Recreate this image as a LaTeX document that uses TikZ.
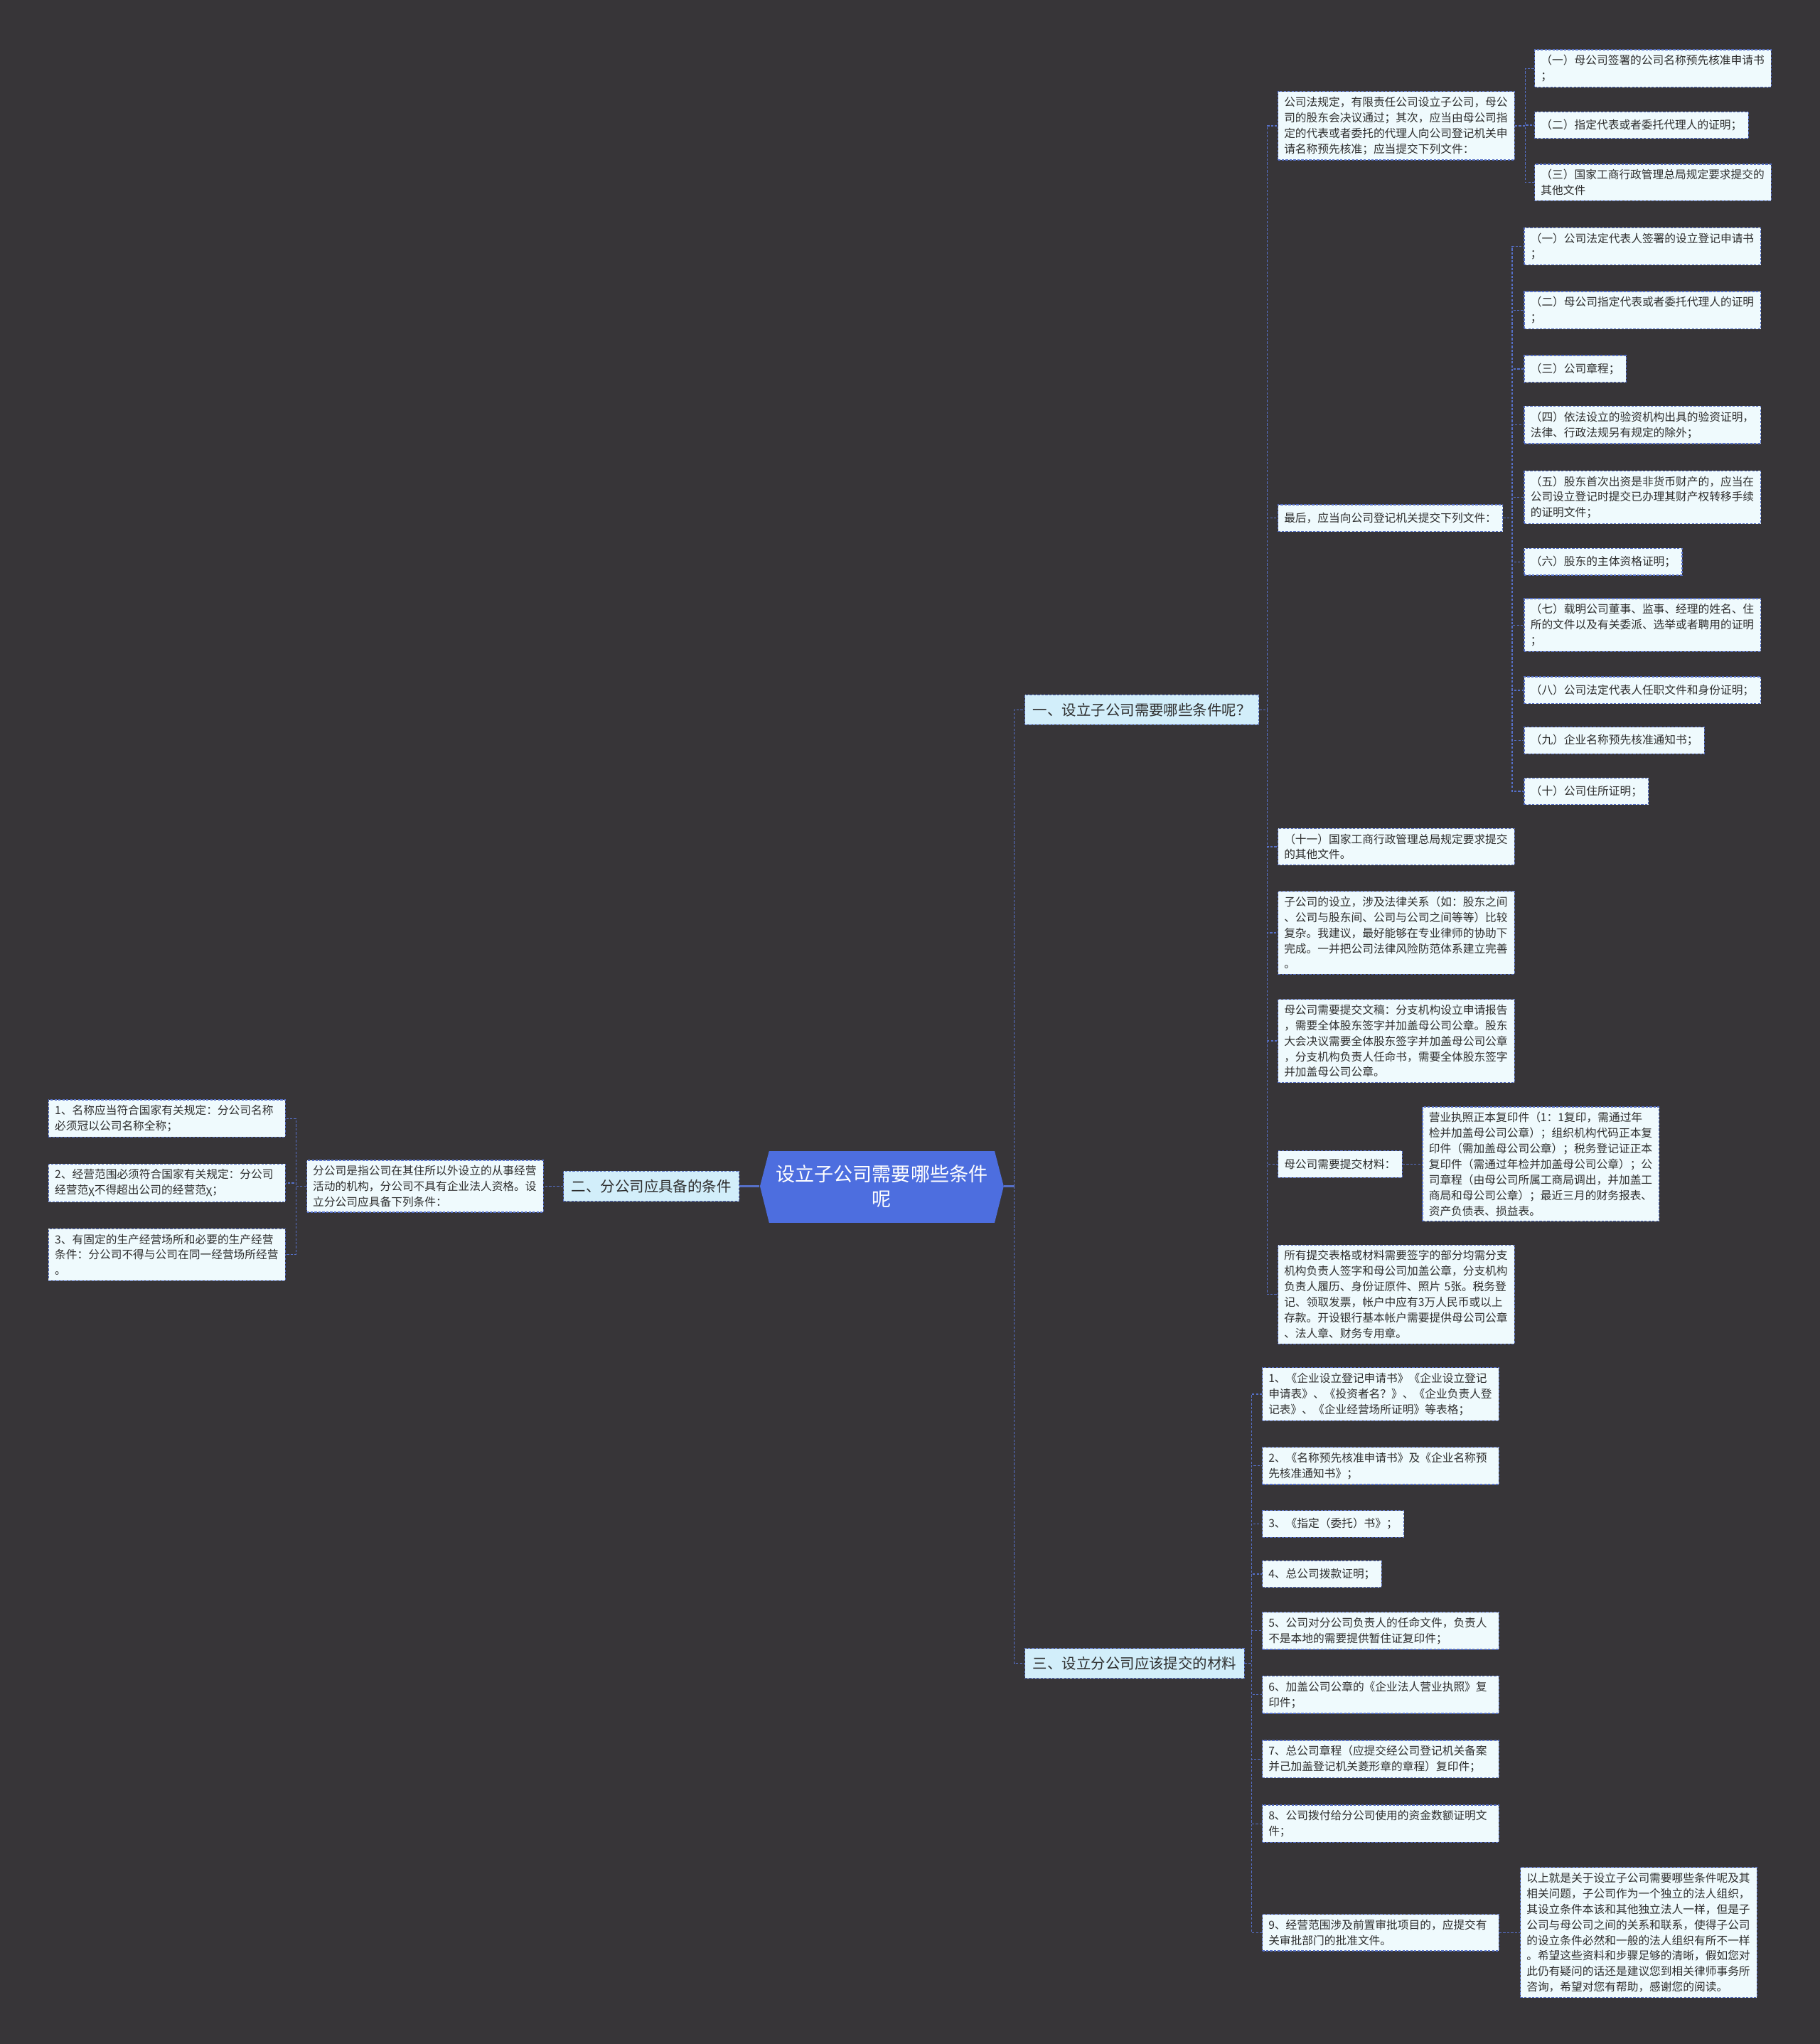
\documentclass[tikz,border=0pt]{standalone}
\usepackage{fontspec}
\setmainfont{Noto Sans CJK SC}
\definecolor{bgc}{HTML}{373538}
\definecolor{linec}{HTML}{5670C8}
\definecolor{leaffill}{HTML}{EFFAFD}
\definecolor{branchfill}{HTML}{D2EEFA}
\definecolor{rootfill}{HTML}{4D6EDF}
\definecolor{textc}{HTML}{2E2E2E}

\begin{document}
\begin{tikzpicture}[x=0.02cm,y=-0.02cm,
  leafbox/.style={draw=linec, line width=0.4pt, dash pattern=on 1pt off 0.7pt,
    fill=leaffill, text=textc, font=\fontsize{4.88}{6.8}\selectfont,
    align=left, inner xsep=0.095cm, inner ysep=0.08cm,
    minimum height=0.41cm, anchor=west},
  widebox/.style={leafbox, text width=3.44cm},
  branchbox/.style={draw=linec, line width=0.4pt, dash pattern=on 1pt off 0.7pt,
    fill=branchfill, text=textc, font=\fontsize{6.35}{8}\selectfont,
    inner xsep=0.12cm, inner ysep=0.06cm, minimum height=0.46cm, anchor=west},
  rootbox/.style={text=white, font=\fontsize{8.4}{10.8}\selectfont,
    align=center, inner sep=0pt, minimum width=3.74cm, minimum height=1.1cm},
  link/.style={linec, line width=0.4pt, dash pattern=on 1pt off 0.7pt},
  stem/.style={linec, line width=0.9pt}]
% background
\fill[bgc] (0,0) rectangle (1396,1568);
% trunks
\coordinate (tl) at (227,0);
\coordinate (t0) at (778,0);
\coordinate (t3) at (960,0);
\coordinate (t1) at (972,0);
\coordinate (t12) at (1160,0);
\coordinate (t11) at (1170,0);
%
% centre
\fill[rootfill] (583,910) -- (590,883) -- (763,883) -- (770,910)
  -- (763,938) -- (590,938) -- cycle;
\node[rootbox] (root) at (676.5,910) {设立子公司需要哪些条件\\呢};
%
% branches
\node[branchbox] (b1) at (786,544.5) {一、设立子公司需要哪些条件呢？};
\node[branchbox] (b2) at (432,910) {二、分公司应具备的条件};
\node[branchbox] (b3) at (786,1276) {三、设立分公司应该提交的材料};
%
% left side
\node[widebox] (fen) at (235,910) {分公司是指公司在其住所以外设立的从事经营\\活动的机构，分公司不具有企业法人资格。设\\立分公司应具备下列条件：};
\node[widebox] (l1) at (37,858) {1、名称应当符合国家有关规定：分公司名称\\必须冠以公司名称全称；};
\node[widebox] (l2) at (37,907.5) {2、经营范围必须符合国家有关规定：分公司\\经营范χ不得超出公司的经营范χ；};
\node[widebox] (l3) at (37,962.5) {3、有固定的生产经营场所和必要的生产经营\\条件：分公司不得与公司在同一经营场所经营\\。};
%
% branch one
\node[widebox] (g1) at (980,96.5) {公司法规定，有限责任公司设立子公司，母公\\司的股东会决议通过；其次，应当由母公司指\\定的代表或者委托的代理人向公司登记机关申\\请名称预先核准；应当提交下列文件：};
\node[widebox] (g1a) at (1177,52.5) {（一）母公司签署的公司名称预先核准申请书\\；};
\node[leafbox] (g1b) at (1177,96) {（二）指定代表或者委托代理人的证明；};
\node[widebox] (g1c) at (1177,140) {（三）国家工商行政管理总局规定要求提交的\\其他文件};
\node[leafbox] (g2) at (980,397.5) {最后，应当向公司登记机关提交下列文件：};
\node[widebox] (g2a) at (1169,189) {（一）公司法定代表人签署的设立登记申请书\\；};
\node[widebox] (g2b) at (1169,238) {（二）母公司指定代表或者委托代理人的证明\\；};
\node[leafbox] (g2c) at (1169,283) {（三）公司章程；};
\node[widebox] (g2d) at (1169,326) {（四）依法设立的验资机构出具的验资证明，\\法律、行政法规另有规定的除外；};
\node[widebox] (g2e) at (1169,381.5) {（五）股东首次出资是非货币财产的，应当在\\公司设立登记时提交已办理其财产权转移手续\\的证明文件；};
\node[leafbox] (g2f) at (1169,431) {（六）股东的主体资格证明；};
\node[widebox] (g2g) at (1169,479.5) {（七）载明公司董事、监事、经理的姓名、住\\所的文件以及有关委派、选举或者聘用的证明\\；};
\node[widebox] (g2h) at (1169,529.5) {（八）公司法定代表人任职文件和身份证明；};
\node[leafbox] (g2i) at (1169,568) {（九）企业名称预先核准通知书；};
\node[leafbox] (g2j) at (1169,607) {（十）公司住所证明；};
\node[widebox] (g3) at (980,649.5) {（十一）国家工商行政管理总局规定要求提交\\的其他文件。};
\node[widebox] (g4) at (980,715.5) {子公司的设立，涉及法律关系（如：股东之间\\、公司与股东间、公司与公司之间等等）比较\\复杂。我建议，最好能够在专业律师的协助下\\完成。一并把公司法律风险防范体系建立完善\\。};
\node[widebox] (g5) at (980,798.5) {母公司需要提交文稿：分支机构设立申请报告\\，需要全体股东签字并加盖母公司公章。股东\\大会决议需要全体股东签字并加盖母公司公章\\，分支机构负责人任命书，需要全体股东签字\\并加盖母公司公章。};
\node[leafbox] (g6) at (980,893) {母公司需要提交材料：};
\node[widebox] (g6a) at (1091,893) {营业执照正本复印件（1：1复印，需通过年\\检并加盖母公司公章）；组织机构代码正本复\\印件（需加盖母公司公章）；税务登记证正本\\复印件（需通过年检并加盖母公司公章）；公\\司章程（由母公司所属工商局调出，并加盖工\\商局和母公司公章）；最近三月的财务报表、\\资产负债表、损益表。};
\node[widebox] (g7) at (980,993) {所有提交表格或材料需要签字的部分均需分支\\机构负责人签字和母公司加盖公章，分支机构\\负责人履历、身份证原件、照片 5张。税务登\\记、领取发票，帐户中应有3万人民币或以上\\存款。开设银行基本帐户需要提供母公司公章\\、法人章、财务专用章。};
%
% branch three
\node[widebox] (h1) at (968,1069.5) {1、《企业设立登记申请书》《企业设立登记\\申请表》、《投资者名？》、《企业负责人登\\记表》、《企业经营场所证明》等表格；};
\node[widebox] (h2) at (968,1124.5) {2、《名称预先核准申请书》及《企业名称预\\先核准通知书》；};
\node[leafbox] (h3) at (968,1169) {3、《指定（委托）书》；};
\node[leafbox] (h4) at (968,1207.5) {4、总公司拨款证明；};
\node[widebox] (h5) at (968,1251) {5、公司对分公司负责人的任命文件，负责人\\不是本地的需要提供暂住证复印件；};
\node[widebox] (h6) at (968,1300) {6、加盖公司公章的《企业法人营业执照》复\\印件；};
\node[widebox] (h7) at (968,1349.5) {7、总公司章程（应提交经公司登记机关备案\\并己加盖登记机关菱形章的章程）复印件；};
\node[widebox] (h8) at (968,1399) {8、公司拨付给分公司使用的资金数额证明文\\件；};
\node[widebox] (h9) at (968,1482.5) {9、经营范围涉及前置审批项目的，应提交有\\关审批部门的批准文件。};
\node[widebox] (h9a) at (1166,1482.5) {以上就是关于设立子公司需要哪些条件呢及其\\相关问题，子公司作为一个独立的法人组织，\\其设立条件本该和其他独立法人一样，但是子\\公司与母公司之间的关系和联系，使得子公司\\的设立条件必然和一般的法人组织有所不一样\\。希望这些资料和步骤足够的清晰，假如您对\\此仍有疑问的话还是建议您到相关律师事务所\\咨询，希望对您有帮助，感谢您的阅读。};
%
% connectors
\draw[stem] (root.west) -- (b2.east);
\draw[stem] (root.east) -- (root.east -| t0);
\draw[link] (root.east -| t0) |- (b1.west);
\draw[link] (root.east -| t0) |- (b3.west);
\draw[link] (b2.west) -- (fen.east);
\foreach \n in {l1,l2,l3}
  \draw[link] (fen.west) -- (fen.west -| tl) |- (\n.east);
\foreach \n in {g1,g2,g3,g4,g5,g6,g7}
  \draw[link] (b1.east) -- (b1.east -| t1) |- (\n.west);
\foreach \n in {g1a,g1b,g1c}
  \draw[link] (g1.east) -- (g1.east -| t11) |- (\n.west);
\foreach \n in {g2a,g2b,g2c,g2d,g2e,g2f,g2g,g2h,g2i,g2j}
  \draw[link] (g2.east) -- (g2.east -| t12) |- (\n.west);
\draw[link] (g6.east) -- (g6a.west);
\foreach \n in {h1,h2,h3,h4,h5,h6,h7,h8,h9}
  \draw[link] (b3.east) -- (b3.east -| t3) |- (\n.west);
\draw[link] (h9.east) -- (h9a.west);
\end{tikzpicture}
\end{document}
